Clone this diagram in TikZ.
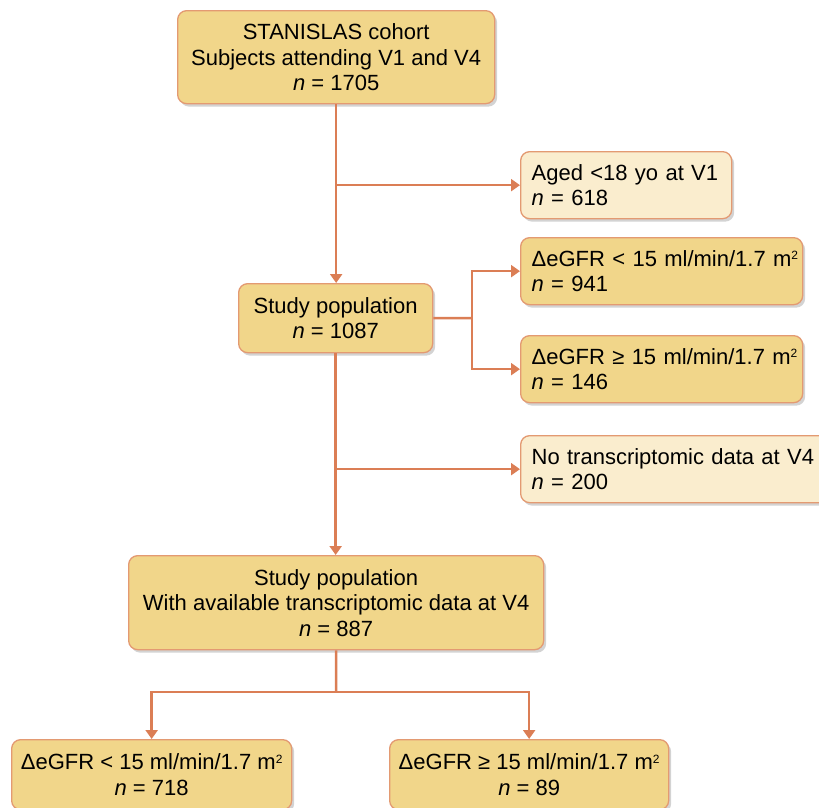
\documentclass[tikz,border=0pt]{standalone}
\usepackage{fontspec}
\setmainfont{Liberation Sans}
\usetikzlibrary{shadows,arrows.meta}
\definecolor{boxfill}{HTML}{F1D68A}
\definecolor{lightfill}{HTML}{FAEDCE}
\definecolor{boxedge}{HTML}{E39A72}
\definecolor{linecol}{HTML}{DB7E55}
\newcommand{\sqsup}{\raisebox{0.55ex}{\fontsize{12}{12}\selectfont 2}}
\tikzset{
  box/.style={draw=boxedge, line width=1.3pt, fill=boxfill, rounded corners=9pt,
    drop shadow={opacity=0.35, shadow xshift=2.5pt, shadow yshift=-3pt},
    font=\fontsize{22}{25.5}\selectfont, inner xsep=11pt, inner ysep=0pt, anchor=north west},
  lbox/.style={box, fill=lightfill},
  bbox/.style={box, inner xsep=2pt},
  conn/.style={draw=linecol, line width=2.5pt},
  arr/.style={conn, -{Triangle[length=9pt,width=12pt]}},
}
\begin{document}
\begin{tikzpicture}[x=1pt,y=-1pt]
\useasboundingbox (0,0) rectangle (819,807);
\node[box, minimum width=317, minimum height=93, align=center] (top) at (177,10)
  {STANISLAS cohort\\Subjects attending V1 and V4\\\textit{n} = 1705};
\node[lbox, minimum width=211, minimum height=67, text width=189, align=left] (aged) at (520,151)
  {\mbox{Aged <18 yo at V1}\\\textit{n} = 618};
\node[box, minimum width=194, minimum height=69, align=center] (pop1) at (238,283)
  {Study population\\\textit{n} = 1087};
\node[box, minimum width=282, minimum height=67, text width=260, align=left] (low1) at (520,237)
  {\mbox{ΔeGFR < 15 ml/min/1.7 m\sqsup}\\\textit{n} = 941};
\node[box, minimum width=282, minimum height=67, text width=260, align=left] (high1) at (520,335)
  {\mbox{ΔeGFR ≥ 15 ml/min/1.7 m\sqsup}\\\textit{n} = 146};
\node[lbox, minimum width=310, minimum height=67, text width=288, align=left] (notx) at (520,435)
  {\mbox{No transcriptomic data at V4}\\\textit{n} = 200};
\node[box, minimum width=415, minimum height=94, align=center] (pop2) at (128,555)
  {Study population\\With available transcriptomic data at V4\\\textit{n} = 887};
\node[bbox, minimum width=280, minimum height=70, align=center] (low2) at (11,739)
  {ΔeGFR < 15 ml/min/1.7 m\sqsup\\\textit{n} = 718};
\node[bbox, minimum width=279, minimum height=70, align=center] (high2) at (389,739)
  {ΔeGFR ≥ 15 ml/min/1.7 m\sqsup\\\textit{n} = 89};
\coordinate (b1) at (472,318);
\coordinate (b2) at (336,692);
\draw[arr] (top.south) -- (top.south |- pop1.north);
\draw[arr] (top.south |- aged.west) -- (aged.west);
\draw[conn] (pop1.east) -- (b1);
\draw[arr] (b1) |- (low1.west);
\draw[arr] (b1) |- (high1.west);
\draw[arr] (pop1.south) -- (pop1.south |- pop2.north);
\draw[arr] (pop1.south |- notx.west) -- (notx.west);
\draw[conn] (pop2.south) -- (b2);
\draw[arr] (b2) -| (low2.north);
\draw[arr] (b2) -| (high2.north);
\end{tikzpicture}
\end{document}
